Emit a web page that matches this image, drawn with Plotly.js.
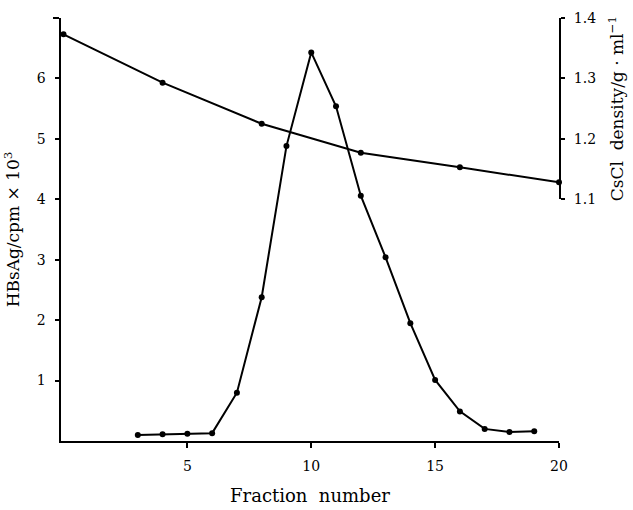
<!DOCTYPE html>
<html>
<head>
<meta charset="utf-8">
<script src="https://cdn.plot.ly/plotly-3.0.1.min.js"></script>
<style>html,body{margin:0;padding:0;background:#fff;}#chart{width:633px;height:510px;}</style>
</head>
<body>
<div id="chart"></div>
<script>
// HBsAg activity per fraction (cpm x 10^3)
const hbsFraction = [3, 4, 5, 6, 7, 8, 9, 10, 11, 12, 13, 14, 15, 16, 17, 18, 19];
const hbsValues   = [0.10, 0.11, 0.12, 0.13, 0.80, 2.38, 4.88, 6.43, 5.54, 4.06, 3.04, 1.95, 1.01, 0.49, 0.20, 0.15, 0.16];
// CsCl density gradient (g/ml)
const densFraction = [0, 4, 8, 12, 16, 20];
const densValues   = [1.373, 1.293, 1.225, 1.177, 1.153, 1.128];
// ticks
const xTicks = [5, 10, 15, 20];
const yTicks = [1, 2, 3, 4, 5, 6];
const yTopTick = [7];
const y2Ticks = [1.1, 1.2, 1.3, 1.4];
const y2TickText = ['1.1', '1.2', '1.3', '1.4'];

const serif = 'DejaVu Serif, Liberation Serif, serif';

const traces = [
  {
    x: hbsFraction, y: hbsValues, xaxis: 'x', yaxis: 'y',
    mode: 'lines+markers', type: 'scatter',
    line: {color: '#000', width: 2},
    marker: {color: '#000', size: 6},
    showlegend: false, hoverinfo: 'skip'
  },
  {
    x: densFraction, y: densValues, xaxis: 'x', yaxis: 'y2',
    mode: 'lines+markers', type: 'scatter',
    line: {color: '#000', width: 2},
    marker: {color: '#000', size: 6},
    showlegend: false, hoverinfo: 'skip', cliponaxis: false
  }
];

const layout = {
  width: 633, height: 510,
  margin: {l: 61, r: 74, t: 18, b: 69},
  paper_bgcolor: '#fff', plot_bgcolor: 'rgba(0,0,0,0)',
  font: {family: serif, size: 14, color: '#000'},
  xaxis: {
    range: [-0.1, 20], tickvals: xTicks, ticktext: xTicks.map(String),
    showgrid: false, zeroline: false,
    showline: true, linecolor: '#000', linewidth: 2,
    ticks: 'outside', ticklen: 5, tickwidth: 2, tickcolor: '#000',
    ticklabelstandoff: 6,
    tickfont: {family: serif, size: 14},
    title: {text: 'Fraction&nbsp;&nbsp;number', font: {family: serif, size: 18}, standoff: 17},
    anchor: 'y', automargin: false
  },
  yaxis: {
    range: [0, 7], domain: [0, 1], tickvals: yTicks, ticktext: yTicks.map(String),
    showgrid: false, zeroline: false,
    showline: true, linecolor: '#000', linewidth: 2.5,
    ticks: 'outside', ticklen: 4, tickwidth: 2, tickcolor: '#000',
    minor: {tickvals: yTopTick, ticks: 'outside', ticklen: 6, tickwidth: 2, tickcolor: '#000'},
    ticklabelstandoff: 6,
    tickfont: {family: serif, size: 14},
    title: {text: 'HBsAg/cpm&nbsp;×&nbsp;10<sup>3</sup>', font: {family: serif, size: 17}, standoff: 13},
    automargin: false
  },
  yaxis2: {
    range: [1.1, 1.4], domain: [4/7, 1], anchor: 'x', side: 'right',
    tickvals: y2Ticks, ticktext: y2TickText,
    showgrid: false, zeroline: false,
    showline: true, linecolor: '#000', linewidth: 2,
    ticks: 'outside', ticklen: 4, tickwidth: 2, tickcolor: '#000',
    ticklabelstandoff: 6,
    tickfont: {family: serif, size: 14},
    title: {text: 'CsCl&nbsp;&nbsp;density/g&nbsp;·&nbsp;ml<sup>−1</sup>', font: {family: serif, size: 17}, standoff: 16},
    automargin: false
  }
};

Plotly.newPlot('chart', traces, layout, {displayModeBar: false, staticPlot: true});
</script>
</body>
</html>
